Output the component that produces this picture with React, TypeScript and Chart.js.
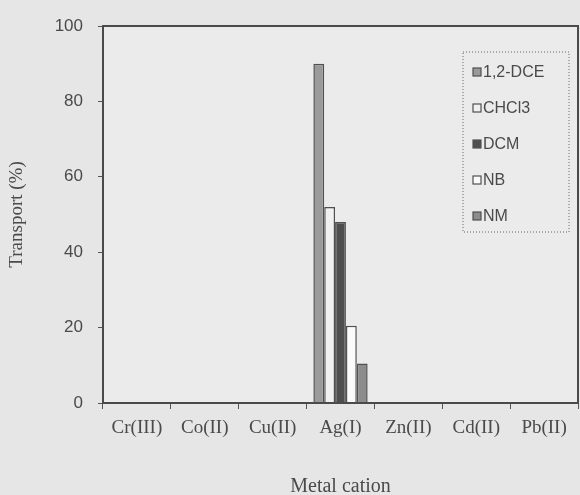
import React, { useEffect, useRef } from "react";
import { Chart, registerables } from "chart.js";

Chart.register(...registerables);

const categories = ["Cr(III)", "Co(II)", "Cu(II)", "Ag(I)", "Zn(II)", "Cd(II)", "Pb(II)"];
const seriesLabels = ["1,2-DCE", "CHCl3", "DCM", "NB", "NM"];
const dce = [0, 0, 0, 90, 0, 0, 0];
const chcl3 = [0, 0, 0, 52, 0, 0, 0];
const dcm = [0, 0, 0, 48, 0, 0, 0];
const nb = [0, 0, 0, 20.5, 0, 0, 0];
const nm = [0, 0, 0, 10.5, 0, 0, 0];
const yTicks = [0, 20, 40, 60, 80, 100];

const fills = ["#9a9a9a", "#f0f0f0", "#4e4e4e", "#fafafa", "#8c8c8c"];
const edge = "#505050";
const serif = "'Liberation Serif', 'Times New Roman', serif";
const sans = "'Liberation Sans', Arial, sans-serif";

const bgPlugin = {
  id: "bg",
  beforeDraw(chart: any) {
    const { ctx, width, height } = chart;
    ctx.save();
    ctx.fillStyle = "#e6e6e6";
    ctx.fillRect(0, 0, width, height);
    const a = chart.chartArea;
    ctx.fillStyle = "#ebebeb";
    ctx.fillRect(a.left, a.top, a.right - a.left, a.bottom - a.top);
    ctx.restore();
  },
  afterDatasetsDraw(chart: any) {
    const { ctx } = chart;
    const a = chart.chartArea;
    ctx.save();
    ctx.strokeStyle = "#4a4a4a";
    ctx.lineWidth = 2;
    ctx.strokeRect(a.left, a.top, a.right - a.left, a.bottom - a.top);
    // legend
    const bx = a.right - 115;
    const by = a.top + 26;
    const bw = 106;
    const bh = 180;
    ctx.setLineDash([1, 2]);
    ctx.lineWidth = 1;
    ctx.strokeStyle = "#666";
    ctx.strokeRect(bx, by, bw, bh);
    ctx.setLineDash([]);
    ctx.font = "16px " + sans;
    ctx.textBaseline = "middle";
    chart.data.datasets.forEach((ds: any, i: number) => {
      const cy = by + 20 + i * 36;
      ctx.fillStyle = ds.backgroundColor;
      ctx.fillRect(bx + 10, cy - 4, 8, 8);
      ctx.strokeStyle = edge;
      ctx.lineWidth = 1.2;
      ctx.strokeRect(bx + 10, cy - 4, 8, 8);
      ctx.fillStyle = "#4a4a4a";
      ctx.fillText(ds.label, bx + 20, cy + 1);
    });
    ctx.restore();
  },
};

export default function App() {
  const ref = useRef<HTMLCanvasElement>(null);
  useEffect(() => {
    document.body.style.margin = "0";
    const seriesData = [dce, chcl3, dcm, nb, nm];
    const chart = new Chart(ref.current!, {
      type: "bar",
      data: {
        labels: categories,
        datasets: seriesLabels.map((l, i) => ({
          label: l,
          data: seriesData[i],
          backgroundColor: fills[i],
          borderColor: edge,
          borderWidth: 1.5,
          categoryPercentage: 0.8,
          barPercentage: 1,
        })),
      },
      options: {
        animation: false,
        responsive: false,
        maintainAspectRatio: false,
        layout: { padding: { top: 26, right: 2, left: 0, bottom: 0 } },
        plugins: { legend: { display: false }, tooltip: { enabled: false } },
        scales: {
          x: {
            offset: true,
            grid: { offset: true, drawOnChartArea: false, drawTicks: true, tickLength: 6, color: "#555" },
            border: { display: false },
            ticks: {
              color: "#4a4a4a",
              padding: 8,
              maxRotation: 0,
              autoSkip: false,
              font: { family: serif, size: 19 },
            },
            title: {
              display: true,
              text: "Metal cation",
              color: "#4a4a4a",
              padding: { top: 28, bottom: -2 },
              font: { family: serif, size: 20, lineHeight: 1 },
            },
            afterFit(s: any) {
              s.height = 92;
            },
          },
          y: {
            min: 0,
            max: 100,
            afterBuildTicks(s: any) {
              s.ticks = yTicks.map((v) => ({ value: v }));
            },
            grid: { drawOnChartArea: false, drawTicks: true, tickLength: 5, color: "#555" },
            border: { display: false },
            ticks: {
              color: "#4a4a4a",
              padding: 15,
              font: { family: sans, size: 17 },
            },
            title: {
              display: true,
              text: "Transport (%)",
              color: "#4a4a4a",
              padding: 6,
              font: { family: serif, size: 19 },
            },
            afterFit(s: any) {
              s.width = 103;
            },
          },
        },
      },
      plugins: [bgPlugin],
    });
    return () => chart.destroy();
  }, []);
  return (
    <div style={{ position: "absolute", left: 0, top: 0, width: 580, height: 495 }}>
      <canvas ref={ref} width={580} height={495} style={{ display: "block" }} />
    </div>
  );
}
